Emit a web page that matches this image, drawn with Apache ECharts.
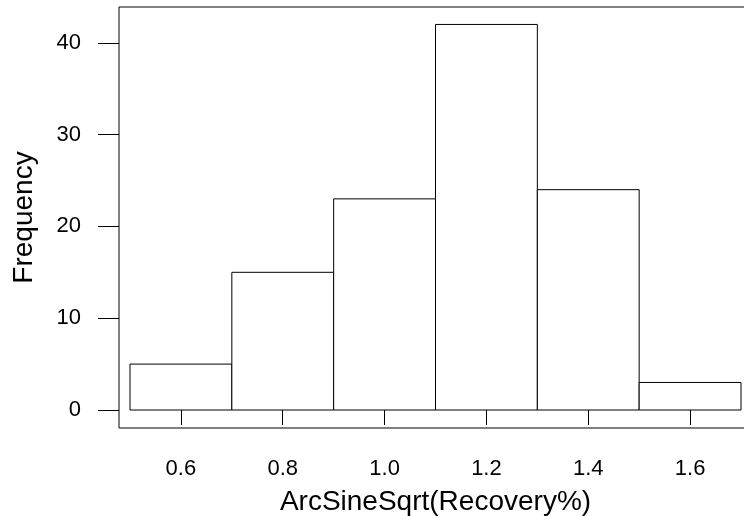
<html>
<head>
    <script src="https://cdn.jsdelivr.net/npm/echarts@6/dist/echarts.min.js"></script>
    <style>
        html, body { margin: 0; padding: 0; background: #fff; }
        #hist { width: 744px; height: 516px; }
    </style>
</head>
<body>
    <div id="hist"></div>
    <script>
        // histogram bins (left edge, right edge) and counts
        var binStart = [0.5, 0.7, 0.9, 1.1, 1.3, 1.5];
        var binEnd = [0.7, 0.9, 1.1, 1.3, 1.5, 1.7];
        var counts = [5, 15, 23, 42, 24, 3];
        var xTicks = [0.6, 0.8, 1.0, 1.2, 1.4, 1.6];
        var yTicks = [0, 10, 20, 30, 40];

        var data = [];
        for (var i = 0; i < counts.length; i++) {
            data.push([binStart[i], binEnd[i], counts[i]]);
        }

        var font = 'Liberation Sans, Arial, sans-serif';
        var chart = echarts.init(document.getElementById('hist'));
        var option = {
            animation: false,
            grid: {
                left: 119,
                top: 7,
                width: 633,
                height: 421,
                outerBoundsMode: 'none',
                containLabel: false,
                show: true,
                borderColor: '#000',
                borderWidth: 1,
                backgroundColor: 'transparent'
            },
            xAxis: {
                type: 'value',
                min: 0.4784,
                max: 1.7216,
                name: 'ArcSineSqrt(Recovery%)',
                nameLocation: 'middle',
                nameGap: 50,
                nameMoveOverlap: false,
                nameTextStyle: { color: '#000', fontSize: 28, fontFamily: font },
                splitLine: { show: false },
                axisLine: { show: false },
                axisTick: {
                    show: true, length: 15, customValues: xTicks,
                    lineStyle: { color: '#000', width: 1 }
                },
                axisLabel: {
                    customValues: xTicks, margin: 22,
                    color: '#000', fontSize: 22, fontFamily: font,
                    formatter: function (v) { return v.toFixed(1); }
                }
            },
            yAxis: {
                type: 'value',
                min: -1.96,
                max: 43.9,
                name: 'Frequency',
                nameLocation: 'middle',
                nameGap: 71,
                nameMoveOverlap: false,
                nameTextStyle: { color: '#000', fontSize: 28, fontFamily: font },
                splitLine: { show: false },
                axisLine: { show: false },
                axisTick: {
                    show: true, length: 21, customValues: yTicks,
                    lineStyle: { color: '#000', width: 1 }
                },
                axisLabel: {
                    customValues: yTicks, margin: 38,
                    color: '#000', fontSize: 22, fontFamily: font
                }
            },
            series: [{
                type: 'custom',
                data: data,
                encode: { x: [0, 1], y: 2 },
                renderItem: function (params, api) {
                    var p0 = api.coord([api.value(0), 0]);
                    var p1 = api.coord([api.value(1), api.value(2)]);
                    return {
                        type: 'rect',
                        shape: { x: p0[0], y: p1[1], width: p1[0] - p0[0], height: p0[1] - p1[1] },
                        style: { fill: '#fff', stroke: '#000', lineWidth: 1 }
                    };
                }
            }]
        };
        chart.setOption(option);
    </script>
</body>
</html>
